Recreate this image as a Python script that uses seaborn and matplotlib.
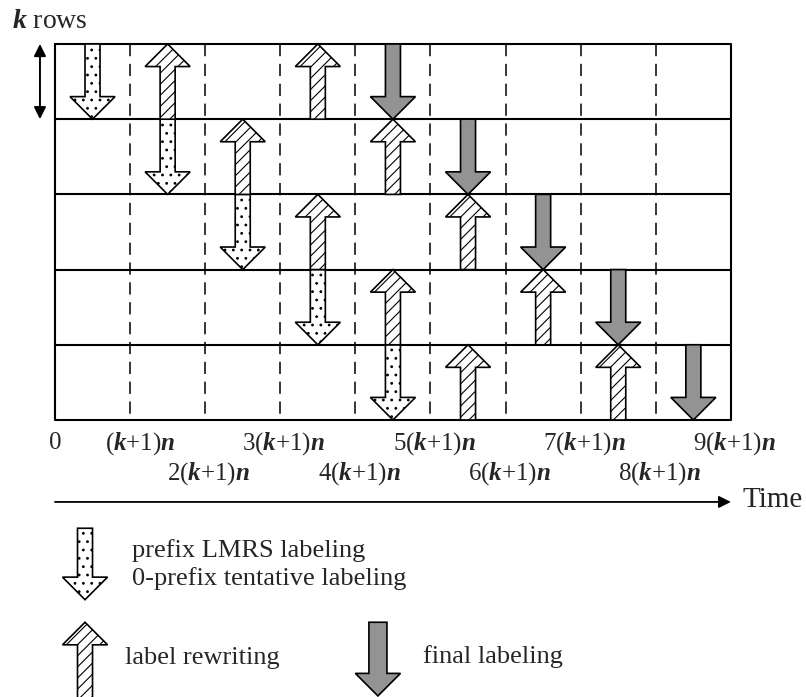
import matplotlib
matplotlib.use("Agg")
import matplotlib.pyplot as plt
from matplotlib.patches import Polygon
import seaborn as sns

# grid: 5 row blocks of k rows, 9 time slots of (k+1)n
n_rows = 5
n_cols = 9

# prefix LMRS / 0-prefix tentative labeling (dotted, pointing down)
lmrs_x = [0.5, 1.5, 2.5, 3.5, 4.5]
lmrs_row = [0, 1, 2, 3, 4]

# label rewriting (hatched, pointing up)
rewrite_x = [1.5, 3.5, 2.5, 4.5, 3.5, 5.5, 4.5, 6.5, 5.5, 7.5]
rewrite_row = [0, 0, 1, 1, 2, 2, 3, 3, 4, 4]

# final labeling (grey, pointing down)
final_x = [4.5, 5.5, 6.5, 7.5, 8.5]
final_row = [0, 1, 2, 3, 4]

tick_labels = ["0", "($k$+1)$n$", "2($k$+1)$n$", "3($k$+1)$n$", "4($k$+1)$n$",
               "5($k$+1)$n$", "6($k$+1)$n$", "7($k$+1)$n$", "8($k$+1)$n$", "9($k$+1)$n$"]

legend_texts = ["prefix LMRS labeling", "0-prefix tentative labeling",
                "label rewriting", "final labeling"]

sns.set_theme(style="white")
plt.rcParams['font.family'] = ['Liberation Serif', 'DejaVu Serif']
plt.rcParams['mathtext.fontset'] = 'custom'
plt.rcParams['mathtext.rm'] = 'Liberation Serif'
plt.rcParams['mathtext.it'] = 'Liberation Serif:italic:bold'
plt.rcParams['hatch.linewidth'] = 0.8

fig = plt.figure(figsize=(8.06, 6.97), dpi=100)
ax = fig.add_axes([0, 0, 1, 1])
ax.set_xlim(-0.732, 10.0)
ax.set_ylim(8.684, -0.585)
ax.axis('off')

styles = {
    'lmrs': dict(facecolor='white', hatch='..'),
    'rewrite': dict(facecolor='white', hatch='///'),
    'final': dict(facecolor='#939393', hatch=None),
}


def draw_arrow(x, y_tail, y_tip, kind, shaft=0.2, head_w=0.6, head_l=0.3):
    d = 1 if y_tip > y_tail else -1
    yb = y_tip - d * head_l
    pts = [(x - shaft / 2, y_tail), (x + shaft / 2, y_tail), (x + shaft / 2, yb),
           (x + head_w / 2, yb), (x, y_tip), (x - head_w / 2, yb), (x - shaft / 2, yb)]
    ax.add_patch(Polygon(pts, closed=True, edgecolor='black', lw=1.2, zorder=3,
                         **styles[kind]))


# grid lines
for c in range(1, n_cols):
    ax.plot([c, c], [0, n_rows], color='black', lw=1.1, ls=(0, (8, 5)), zorder=1)
for r in range(1, n_rows):
    ax.plot([0, n_cols], [r, r], color='black', lw=1.5, zorder=2)
ax.plot([0, n_cols, n_cols, 0, 0], [0, 0, n_rows, n_rows, 0], color='black', lw=1.5, zorder=2)

for x, r in zip(lmrs_x, lmrs_row):
    draw_arrow(x, r, r + 1, 'lmrs')
for x, r in zip(rewrite_x, rewrite_row):
    draw_arrow(x, r + 1, r, 'rewrite')
for x, r in zip(final_x, final_row):
    draw_arrow(x, r, r + 1, 'final')

# k rows marker
ax.annotate('', xy=(-0.2, 0.0), xytext=(-0.2, 1.0),
            arrowprops=dict(arrowstyle='<|-|>', color='black', lw=1.4, mutation_scale=18,
                            shrinkA=0, shrinkB=0))
ax.text(-0.57, -0.21, '$k$ rows', fontsize=20, ha='left', va='baseline')

# time tick labels
for i, lab in enumerate(tick_labels):
    y = 5.31 if i % 2 == 1 or i == 0 else 5.71
    if i == 0:
        ax.text(0.0, y, lab, fontsize=18, ha='center', va='center')
    else:
        ax.text(i + 0.6, y, lab, fontsize=18, ha='right', va='center')

# time axis
ax.annotate('', xy=(n_cols, 6.09), xytext=(0, 6.09),
            arrowprops=dict(arrowstyle='-|>', color='black', lw=1.3, mutation_scale=18,
                            shrinkA=0, shrinkB=0))
ax.text(9.15, 6.06, 'Time', fontsize=21, ha='left', va='center')

# legend
draw_arrow(0.4, 6.44, 7.39, 'lmrs')
ax.text(1.025, 6.73, legend_texts[0], fontsize=19, ha='left', va='center')
ax.text(1.025, 7.11, legend_texts[1], fontsize=19, ha='left', va='center')
draw_arrow(0.4, 8.70, 7.69, 'rewrite')
ax.text(0.93, 8.16, legend_texts[2], fontsize=19, ha='left', va='center')
draw_arrow(4.30, 7.69, 8.67, 'final', shaft=0.24)
ax.text(4.90, 8.14, legend_texts[3], fontsize=19, ha='left', va='center')

fig.savefig('out.png', dpi=100)
